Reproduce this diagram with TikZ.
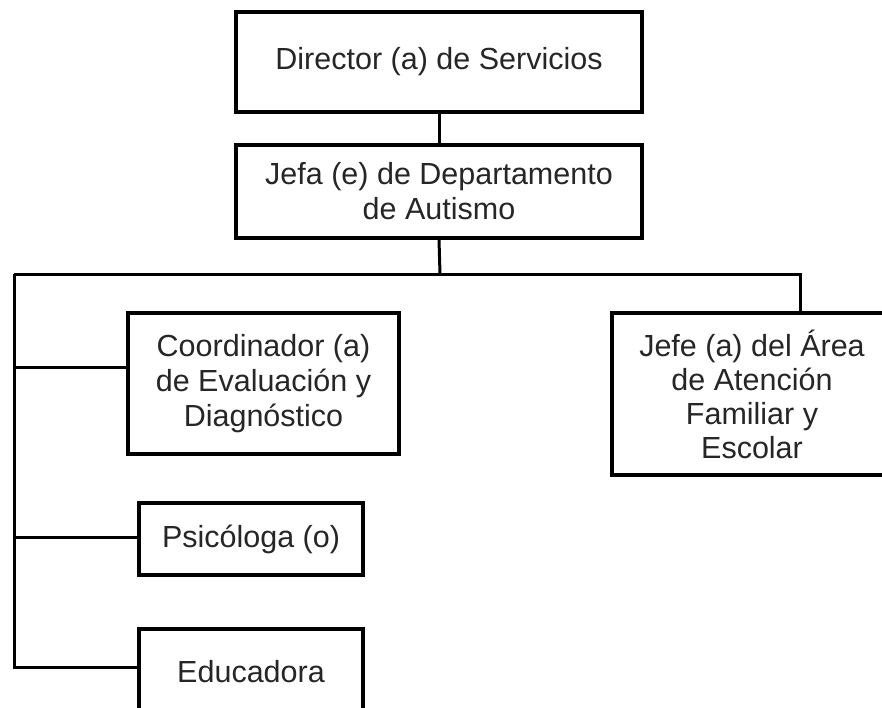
\documentclass[tikz,border=0pt]{standalone}
\usepackage{fontspec}
\setmainfont{Liberation Sans}
\begin{document}
\begin{tikzpicture}[x=1pt,y=-1pt,
  box/.style={draw, line width=3.8pt, inner sep=0pt, align=center,
    font=\fontsize{30.5}{35}\selectfont, text=black!85},
  conn/.style={line width=3pt}]
\clip (0,0) rectangle (882,707);
\fill[white] (0,0) rectangle (882,707);
\node[box, minimum width=406pt, minimum height=100pt] (dir) at (439,62) {Director (a) de Servicios};
\node[box, minimum width=406pt, minimum height=93pt] (jefa) at (439,191.5) {Jefa (e) de Departamento\\de Autismo};
\node[box, minimum width=271pt, minimum height=141pt] (coord) at (263.5,383.5) {Coordinador (a)\\de Evaluación y\\Diagnóstico};
\node[box, minimum width=280pt, minimum height=162pt, font=\fontsize{30.5}{34}\selectfont] (jefe) at (752,394) {Jefe (a) del Área\\de Atención\\Familiar y\\Escolar};
\node[box, minimum width=224pt, minimum height=72pt] (psic) at (251,539) {Psicóloga (o)};
\node[box, minimum width=224pt, minimum height=86pt] (edu) at (251,672) {Educadora};
\coordinate (top) at (440,274);
\coordinate (lt) at (14,274);
\coordinate (rt) at (800,274);
\coordinate (b1) at (14,367);
\coordinate (b2) at (14,537);
\coordinate (lb) at (14,667);
\draw[conn] (dir.south) -- (jefa.north);
\draw[conn] (jefa.south) -- (top);
\draw[conn] (lt) -- (rt) -- (rt |- jefe.north);
\draw[conn] (lt) -- (lb) -- (edu.west |- lb);
\draw[conn] (b1) -- (coord.west |- b1);
\draw[conn] (b2) -- (psic.west |- b2);
\end{tikzpicture}
\end{document}
